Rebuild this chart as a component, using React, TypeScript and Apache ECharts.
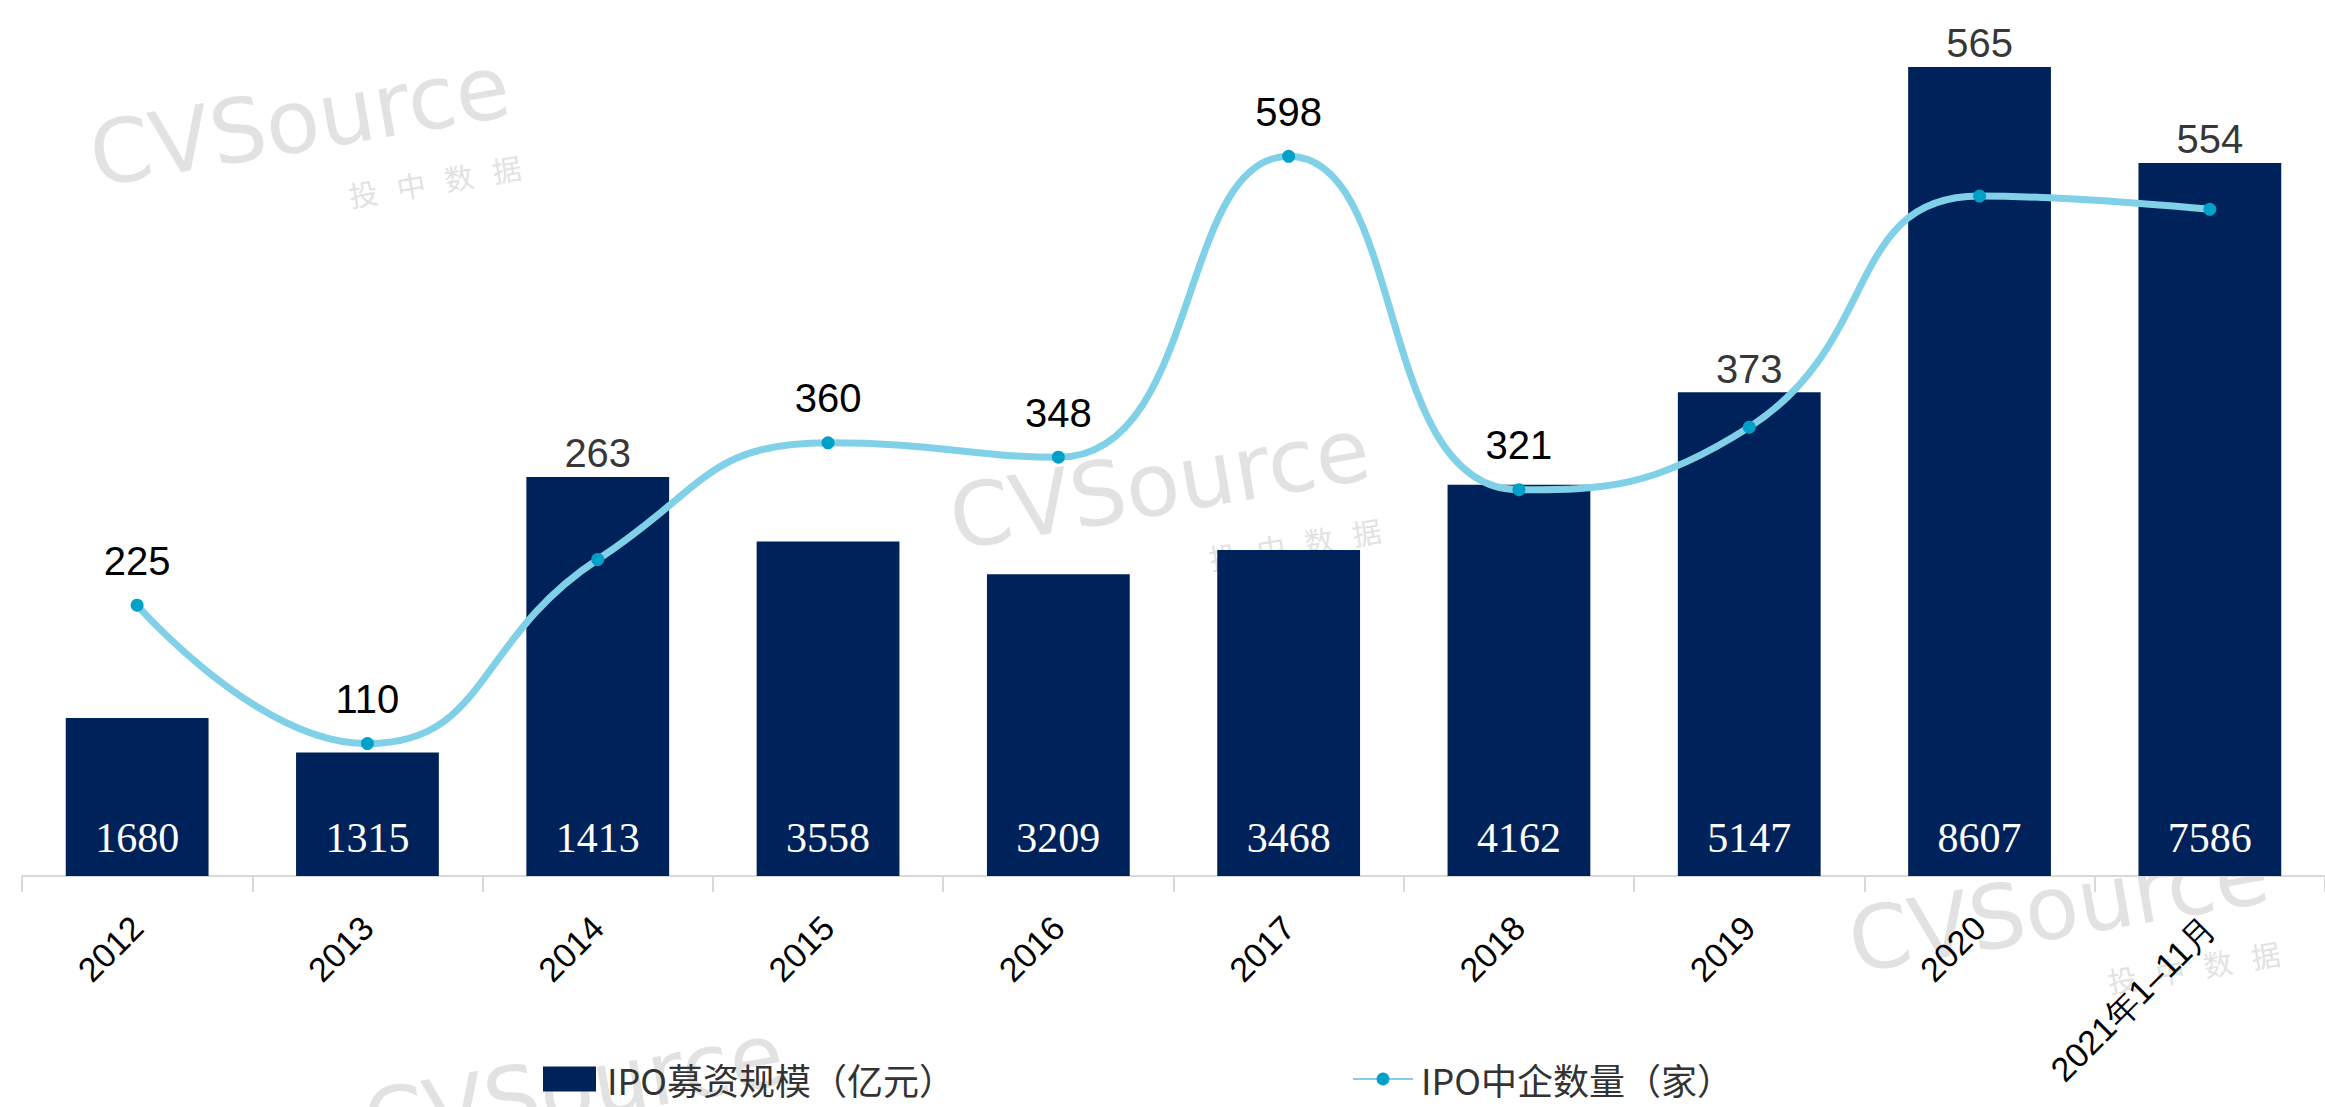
import React, { useEffect, useRef } from "react";
import * as echarts from "echarts";

// ---- data ----
const categories = ["2012", "2013", "2014", "2015", "2016", "2017", "2018", "2019", "2020", "2021年1–11月"];
// bar heights as drawn (亿元)
const fundraisingHeights = [1680, 1315, 4245, 3558, 3209, 3468, 4162, 5147, 8607, 7586];
// texts printed inside the bars
const fundraisingLabels = ["1680", "1315", "1413", "3558", "3209", "3468", "4162", "5147", "8607", "7586"];
// IPO company counts (家)
const ipoCounts = [225, 110, 263, 360, 348, 598, 321, 373, 565, 554];
// where each count label sits: above the bar (true) or above the line point (false)
const countLabelOnBar = [false, false, true, false, false, false, false, true, true, true];

const BAR_NAME = "IPO募资规模（亿元）";
const LINE_NAME = "IPO中企数量（家）";

const NAVY = "#00225A";
const LINE_COLOR = "#80D0E8";
const POINT_COLOR = "#00A0C8";
const WM_COLOR = "#e2e2e2";

function watermark(x: number, y: number, withChinese = true) {
  const children: any[] = [
    {
      type: "text",
      x: 0,
      y: 0,
      style: {
        text: "CVSource",
        font: '88px "DejaVu Sans"',
        fill: WM_COLOR,
        textAlign: "left",
        textVerticalAlign: "bottom",
      },
    },
  ];
  if (withChinese) {
    children.push({
      type: "text",
      x: 248,
      y: 52,
      style: {
        text: "投   中   数   据",
        font: '29px "Noto Sans CJK SC"',
        fill: WM_COLOR,
        textAlign: "left",
        textVerticalAlign: "bottom",
      },
    });
  }
  return { type: "group", x, y, rotation: 0.17, z: -10, silent: true, children };
}

export default function App() {
  const ref = useRef<HTMLDivElement>(null);

  useEffect(() => {
    if (!ref.current) return;
    const chart = echarts.init(ref.current, undefined, { renderer: "svg" });

    const legendText = {
      fontFamily: '"Noto Sans CJK SC"',
      fontSize: 36,
      lineHeight: 36,
      color: "#333",
    };

    const option: any = {
      animation: false,
      backgroundColor: "#ffffff",
      grid: { left: 22, right: -15, top: 30, bottom: 231, containLabel: false },
      legend: [
        {
          data: [{ name: BAR_NAME, icon: "rect" }],
          left: 538,
          top: 1056,
          padding: 5,
          itemWidth: 53,
          itemHeight: 25,
          textStyle: { ...legendText, padding: [0, 0, 0, 6] },
        },
        {
          data: [{ name: LINE_NAME }],
          left: 1347,
          top: 1056,
          padding: 5,
          itemWidth: 60,
          itemHeight: 16,
          textStyle: { ...legendText, padding: [0, 0, 0, 3] },
        },
      ],
      xAxis: {
        type: "category",
        data: categories,
        axisLine: { show: true, lineStyle: { color: "#d9d9d9", width: 2 } },
        axisTick: { show: true, length: 16, lineStyle: { color: "#d9d9d9", width: 2 } },
        axisLabel: {
          interval: 0,
          rotate: 45,
          margin: 46,
          fontFamily: '"Liberation Sans", Arial, sans-serif',
          fontSize: 34,
          color: "#000",
        },
        splitLine: { show: false },
      },
      yAxis: [
        { type: "value", min: 0, max: 9000, show: false, splitLine: { show: false } },
        { type: "value", min: 0, max: 703, show: false, splitLine: { show: false } },
      ],
      graphic: {
        elements: [
          watermark(98, 200),
          watermark(958, 563),
          watermark(1857, 986),
          watermark(372, 1168, false),
        ],
      },
      series: [
        {
          name: BAR_NAME,
          type: "bar",
          yAxisIndex: 0,
          data: fundraisingHeights,
          barCategoryGap: "38%",
          itemStyle: { color: NAVY },
          label: {
            show: true,
            position: "insideBottom",
            distance: 17,
            fontFamily: '"Liberation Serif", "Times New Roman", serif',
            fontSize: 42,
            color: "#ffffff",
            formatter: (p: any) => fundraisingLabels[p.dataIndex],
          },
          z: 2,
        },
        {
          name: LINE_NAME,
          type: "line",
          yAxisIndex: 1,
          data: ipoCounts,
          smooth: 0.5,
          symbol: "circle",
          symbolSize: 13,
          lineStyle: { color: LINE_COLOR, width: 7 },
          itemStyle: { color: POINT_COLOR },
          label: {
            show: true,
            position: "top",
            distance: 18,
            fontFamily: '"Liberation Sans", Arial, sans-serif',
            fontSize: 40,
            color: "#000",
            formatter: (p: any) => (countLabelOnBar[p.dataIndex] ? "" : String(p.value)),
          },
          z: 3,
        },
        {
          name: "countOnBar",
          type: "scatter",
          yAxisIndex: 0,
          data: fundraisingHeights.map((v, i) => (countLabelOnBar[i] ? v : "-")),
          symbol: "circle",
          symbolSize: 1,
          itemStyle: { color: "rgba(0,0,0,0)" },
          silent: true,
          label: {
            show: true,
            position: "top",
            distance: 3,
            fontFamily: '"Liberation Sans", Arial, sans-serif',
            fontSize: 40,
            color: "#000",
            formatter: (p: any) => String(ipoCounts[p.dataIndex]),
          },
          z: 4,
        },
      ],
    };

    chart.setOption(option);
    return () => chart.dispose();
  }, []);

  return (
    <div
      ref={ref}
      style={{ position: "fixed", left: 0, top: 0, width: 2325, height: 1107, background: "#fff" }}
    />
  );
}
